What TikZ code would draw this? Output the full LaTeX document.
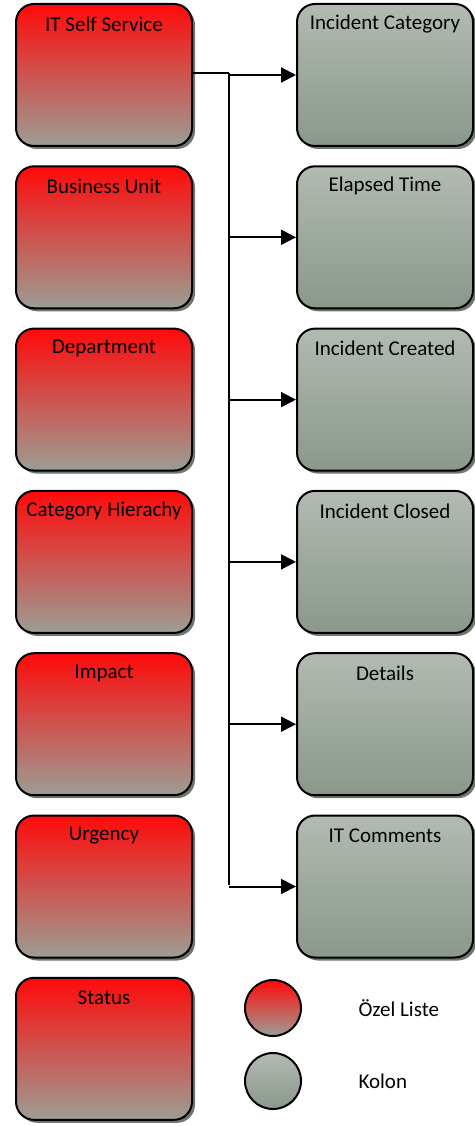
\documentclass[tikz,border=0pt]{standalone}
\usepackage{fontspec}
\setmainfont{Carlito}
\usetikzlibrary{arrows.meta,shadows,calc}
\definecolor{redtop}{RGB}{255,10,10}
\definecolor{redbot}{RGB}{155,158,148}
\definecolor{graytop}{RGB}{178,186,178}
\definecolor{graybot}{RGB}{138,152,138}
\definecolor{shadowc}{RGB}{110,118,110}
\tikzset{
  box/.style={draw=black, line width=2pt, rounded corners=18pt, minimum width=176pt, minimum height=142pt,
    anchor=north west, inner sep=0pt, drop shadow={shadow xshift=3pt, shadow yshift=-3pt, fill=shadowc, opacity=1}},
  redbox/.style={box, top color=redtop, bottom color=redbot},
  graybox/.style={box, top color=graytop, bottom color=graybot},
  lbl/.style={font=\fontsize{21}{24}\selectfont, anchor=center},
  conn/.style={draw=black, line width=2pt},
  arr/.style={conn, -{Triangle[length=15pt,width=15pt]}},
  dot/.style={circle, draw=black, line width=2pt, minimum size=56pt, inner sep=0pt},
}
\begin{document}
\begin{tikzpicture}[x=1pt,y=-1pt]
\useasboundingbox (0,0) rectangle (474,1126);
% left boxes
\foreach \n/\t [count=\i from 0] in {L0/IT Self Service,L1/Business Unit,L2/Department,L3/Category Hierachy,L4/Impact,L5/Urgency,L6/Status}{
  \node[redbox] (\n) at (15,{3+162.3*\i}) {};
  \node[lbl] (\n t) at ($(\n.north)+(0,21)$) {\t};
}
\foreach \n/\t [count=\i from 0] in {R0/Incident Category,R1/Elapsed Time,R2/Incident Created,R3/Incident Closed,R4/Details,R5/IT Comments}{
  \node[graybox] (\n) at (296,{3+162.3*\i}) {};
  \node[lbl] (\n t) at ($(\n.north)+(0,21)$) {\t};
}
\coordinate (J0) at (229,73);
\coordinate (J5) at (229,885);
\draw[conn, line width=2.5pt] (L0.east |- J0) -- (J0);
\draw[conn] (J0) -- (J5);
\foreach \i in {0,...,5}{
  \draw[arr] (J0 |- R\i.west) -- (R\i.west);
}
% legend
\node[dot, top color=redtop, bottom color=redbot] (c1) at (273,1008) {};
\node[dot, top color=graytop, bottom color=graybot] (c2) at (273,1081) {};
\node[lbl, anchor=west] (t1) at (355,1008) {Özel Liste};
\node[lbl, anchor=west] (t2) at (355,1081) {Kolon};
\end{tikzpicture}
\end{document}
